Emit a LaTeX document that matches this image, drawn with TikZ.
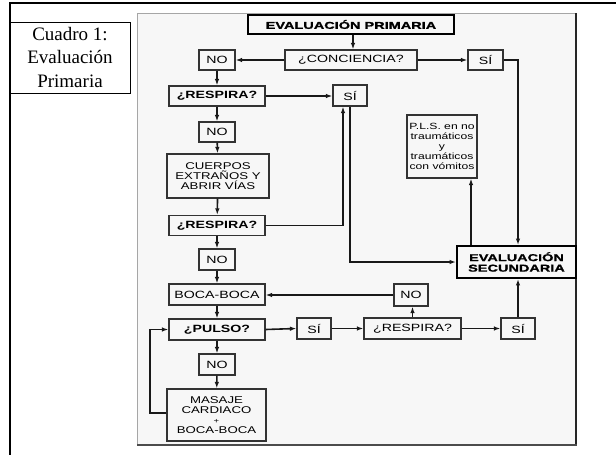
\documentclass[tikz,border=0pt]{standalone}
\usepackage{fontspec}
\setmainfont{Liberation Serif}
\newfontfamily\fc[FakeStretch=1.35]{Liberation Sans}
\newfontfamily\fh[FakeStretch=1.45,FakeBold=1.2]{Liberation Sans}
\usetikzlibrary{arrows.meta}
\definecolor{panel}{HTML}{F7F7F7}
\definecolor{edge}{HTML}{333333}
\begin{document}
\begin{tikzpicture}[x=1pt,y=-1pt,
  box/.style={draw=edge,line width=1.2pt,fill=panel,inner sep=0pt,align=center,
    font=\fc\fontsize{10.5}{10.5}\selectfont},
  bbox/.style={box,font=\fc\fontsize{10.5}{10.5}\selectfont\bfseries},
  hbox/.style={box,line width=1.9pt,draw=black,font=\fh\fontsize{10}{10.5}\selectfont\bfseries},
  small/.style={box,font=\fc\fontsize{9.8}{10}\selectfont},
  conn/.style={line width=1.6pt,draw=black!90},
  arr/.style={conn,-{Latex[length=6.5pt,width=4.5pt]}}]
\useasboundingbox (0,0) rectangle (616,455);
\fill[white] (0,0) rectangle (616,455);
% outer frame
\draw[line width=2.5pt] (9,3) -- (616,3);
\draw[line width=2pt] (10,3) -- (10,455);
% caption box
\node[draw=black,line width=1pt,minimum width=120pt,minimum height=71pt,inner sep=0pt,align=center,
  font=\fontsize{19}{23.5}\selectfont] (cap) at (70,57.5) {Cuadro 1:\\Evaluación\\Primaria};
% panel
\fill[panel] (137,13) rectangle (576,445);
\draw[black!35,line width=0.6pt] (137,445) -- (137,13) -- (576,13);
\draw[black!85,line width=1.2pt] (576,13) -- (576,446);
\draw[black!70,line width=1.8pt] (137,445) -- (577,445);
% nodes
\node[hbox,minimum width=206pt,minimum height=19pt] (evp) at (351,24.5) {EVALUACIÓN PRIMARIA};
\node[box,minimum width=132pt,minimum height=20pt] (conc) at (351,60) {¿CONCIENCIA?};
\node[box,minimum width=36pt,minimum height=20pt] (no1) at (217,60) {NO};
\node[box,minimum width=35pt,minimum height=20pt] (si1) at (485.5,60) {SÍ};
\node[bbox,minimum width=96pt,minimum height=20pt] (resp1) at (217,96) {¿RESPIRA?};
\node[box,minimum width=34pt,minimum height=21pt] (si2) at (350,95.5) {SÍ};
\node[box,minimum width=36pt,minimum height=20pt] (no2) at (217,132) {NO};
\node[small,minimum width=102pt,minimum height=44pt] (cuer) at (218,176) {CUERPOS\\EXTRAÑOS Y\\ABRIR VÍAS};
\node[bbox,minimum width=96pt,minimum height=20pt] (resp2) at (217,225.5) {¿RESPIRA?};
\node[box,minimum width=36pt,minimum height=21pt] (no3) at (217,259.5) {NO};
\node[box,minimum width=96pt,minimum height=21pt] (boca) at (217,294.5) {BOCA-BOCA};
\node[bbox,minimum width=96pt,minimum height=21pt] (pulso) at (217,329.5) {¿PULSO?};
\node[box,minimum width=36pt,minimum height=21pt] (no4) at (217,364.5) {NO};
\node[small,minimum width=99pt,minimum height=52pt,font=\fc\fontsize{9.8}{10}\selectfont] (mas) at (216.5,415) {MASAJE\\CARDIACO\\{\fontsize{7}{6}\selectfont +}\\BOCA-BOCA};
\node[box,minimum width=34pt,minimum height=21pt] (si3) at (314,328.5) {SÍ};
\node[box,minimum width=97pt,minimum height=21pt] (resp3) at (412.5,328.5) {¿RESPIRA?};
\node[box,minimum width=34pt,minimum height=21pt] (si4) at (518,328.5) {SÍ};
\node[box,minimum width=34pt,minimum height=22pt] (no5) at (411,295) {NO};
\node[hbox,minimum width=119pt,minimum height=32pt] (evs) at (516.5,262) {EVALUACIÓN\\SECUNDARIA};
\node[small,minimum width=70pt,minimum height=63pt,font=\fc\fontsize{9}{10}\selectfont] (pls) at (442,146.5) {P.L.S. en no\\traumáticos\\y\\traumáticos\\con vómitos};
\coordinate (plsx) at (471,0);
\coordinate (loopx) at (150,0);
% connectors
\draw[arr] ([xshift=2pt]evp.south) -- ([xshift=2pt]conc.north);
\draw[arr] (conc.west) -- (no1.east);
\draw[arr] (conc.east) -- (si1.west);
\draw[arr] (no1) -- (resp1);
\draw[arr] (resp1.east) -- (resp1.east -| si2.west);
\draw[arr] (resp1) -- (no2);
\draw[arr] (no2) -- (cuer);
\draw[arr] (cuer) -- (resp2);
\draw[arr] (resp2) -- (no3);
\draw[arr] (no3) -- (boca);
\draw[arr] (boca) -- (pulso);
\draw[arr] (pulso) -- (no4);
\draw[arr] (no4) -- (mas);
\draw[arr] (resp2.east) -| ([xshift=-7pt]si2.south);
\draw[arr] (si2.south) |- (evs.west);
\draw[arr] (si1.east) -| ([xshift=1.5pt]evs.north);
\draw[arr] (evs.north -| plsx) -- (pls.south -| plsx);
\draw[arr] (mas.west |- 0,413) -| (loopx |- pulso.west) -- (pulso.west);
\draw[arr] (pulso.east) -- (si3.west);
\draw[arr] (si3.east) -- (resp3.west);
\draw[arr] (resp3.north) -- (resp3.north |- no5.south);
\draw[arr] (no5.west) -- (no5.west -| boca.east);
\draw[arr] (resp3.east) -- (si4.west);
\draw[arr] (si4.north) -- (si4.north |- evs.south);
\end{tikzpicture}
\end{document}
